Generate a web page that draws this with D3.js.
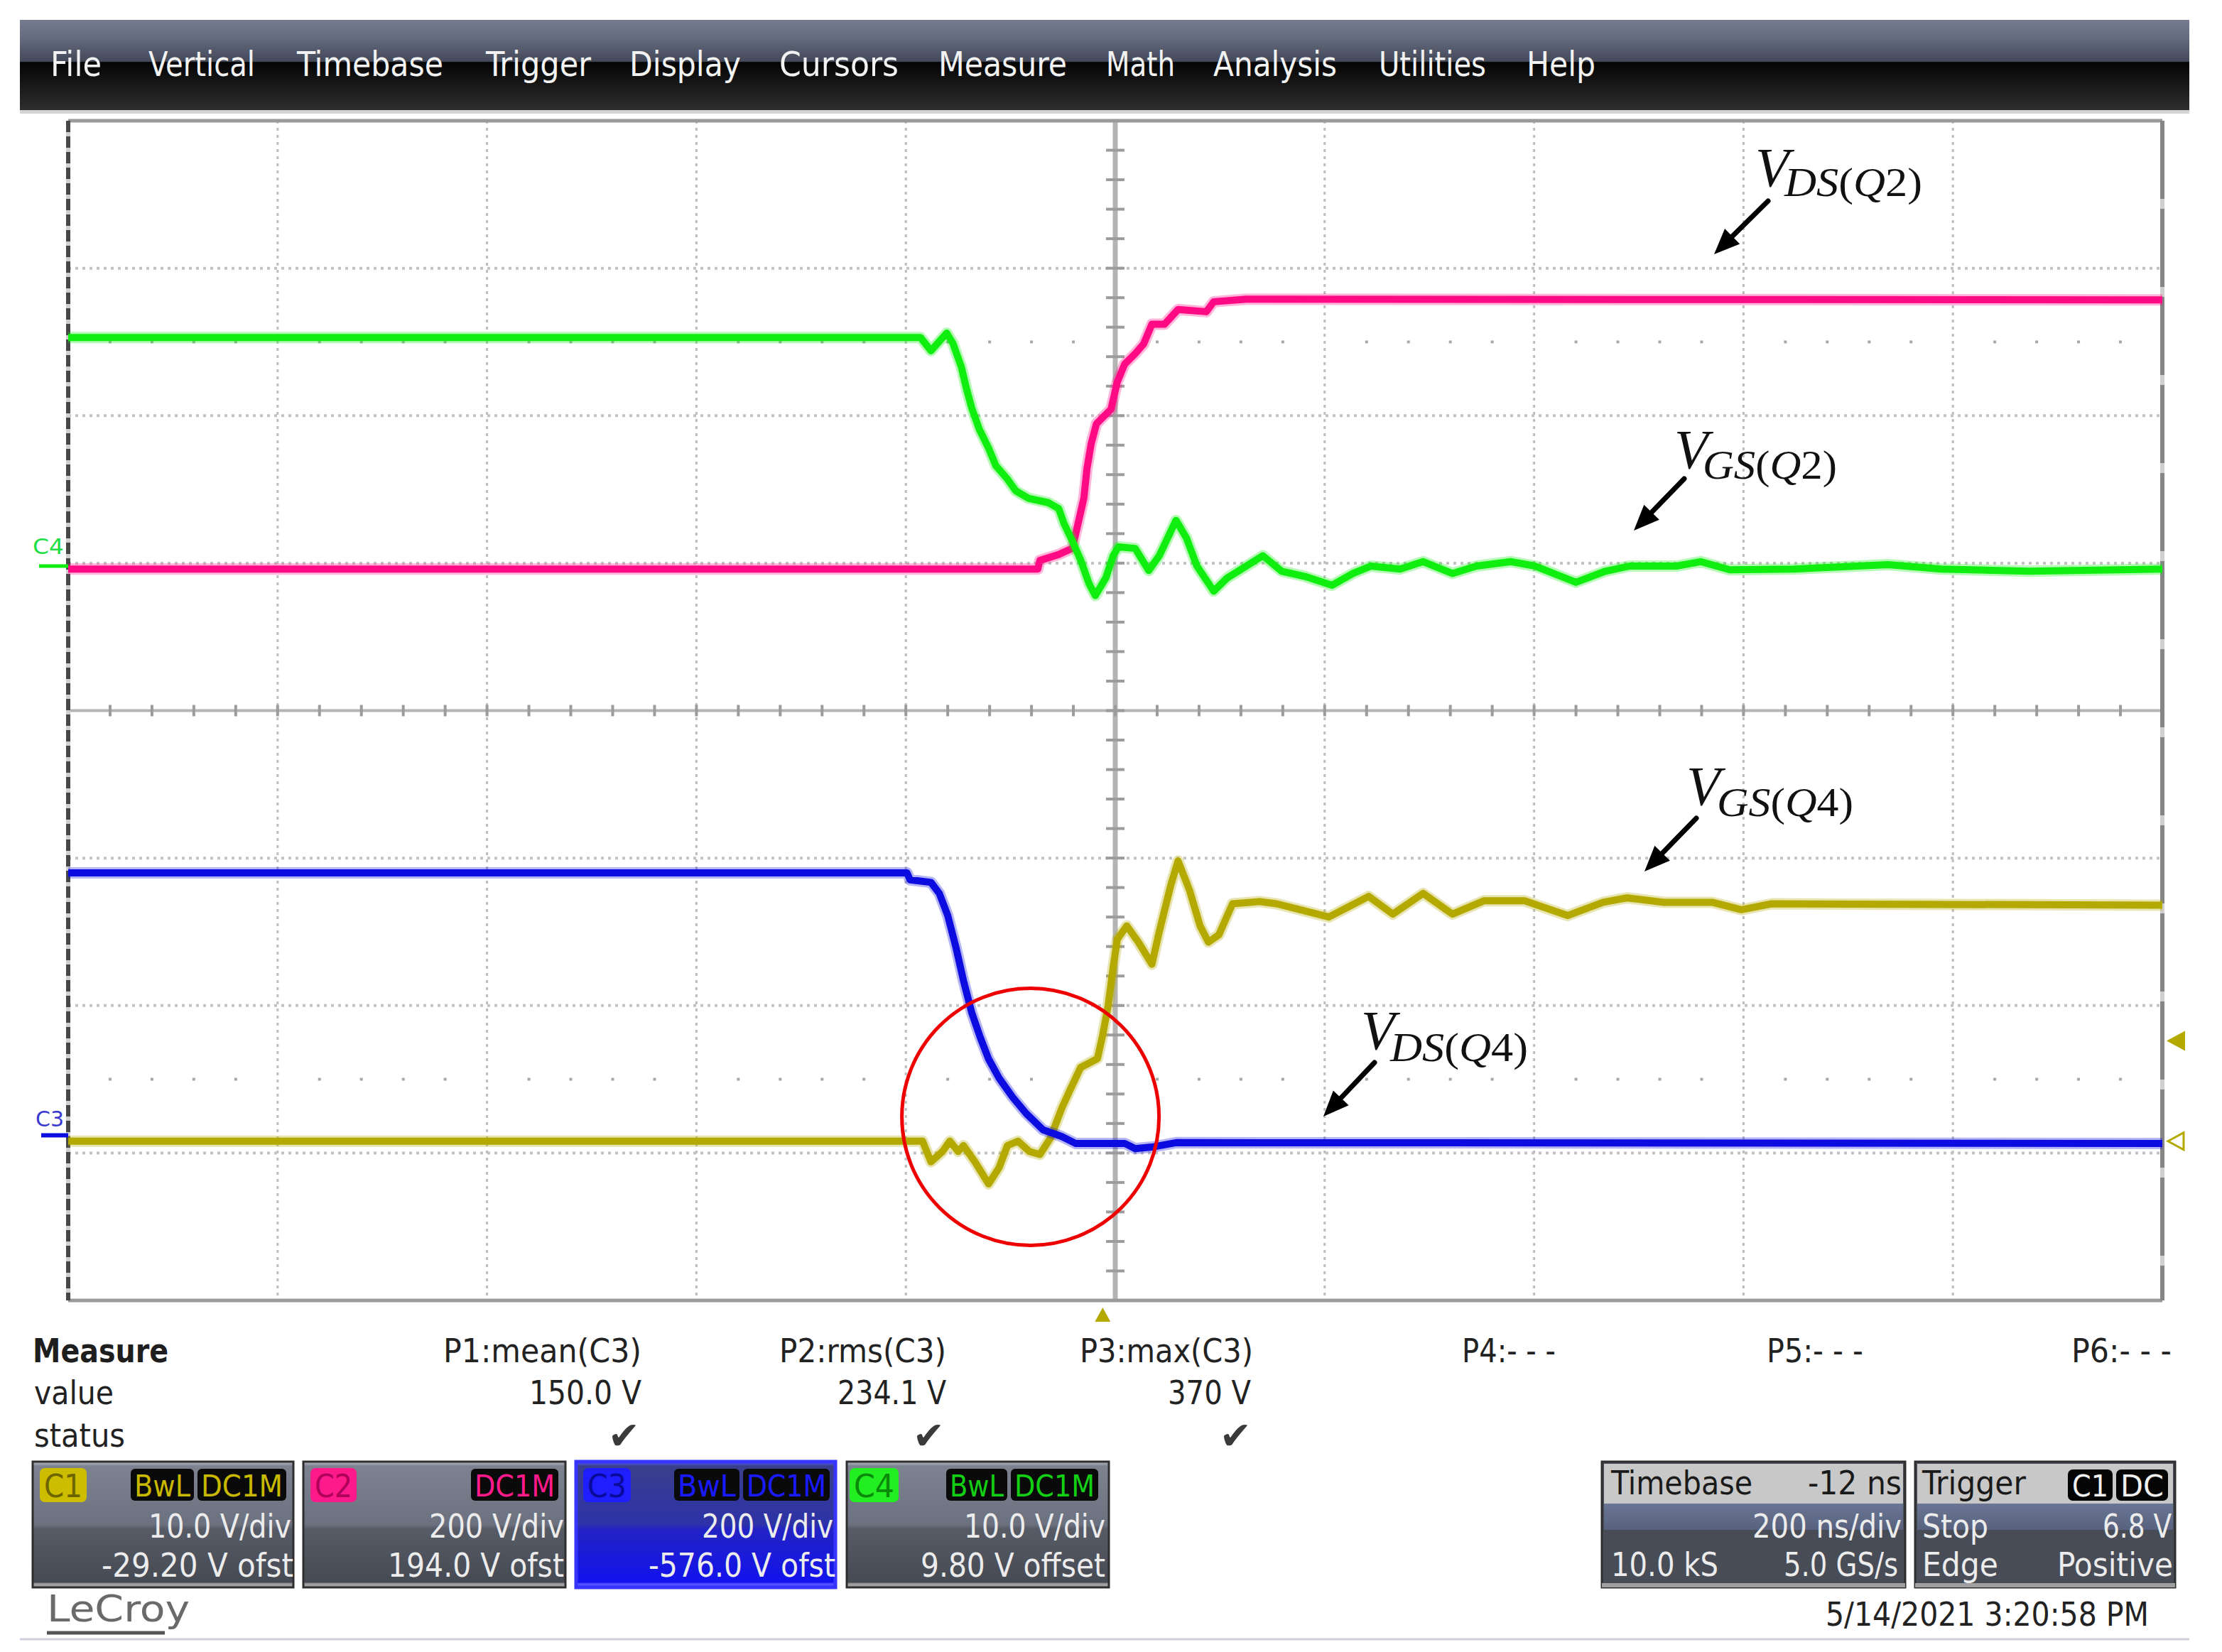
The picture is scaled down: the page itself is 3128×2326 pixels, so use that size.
<!DOCTYPE html>
<html><head><meta charset="utf-8">
<script src="https://cdn.jsdelivr.net/npm/d3@7"></script>
<style>html,body{margin:0;padding:0;background:#fff;} svg{display:block;}</style>
</head><body><svg id="c" width="3128" height="2326"></svg>
<script>
// ---------------- DATA ----------------
const menuItems = ["File","Vertical","Timebase","Trigger","Display","Cursors","Measure","Math","Analysis","Utilities","Help"];

// channel settings
const chNames   = ["C1","C2","C3","C4"];
const chVdiv    = [10, 200, 200, 10];          // V/div
const chOffset  = [-29.2, 194.0, -576.0, 9.80]; // V offset
const chColors  = ["#b3a900","#ff0a84","#0c0ce0","#10ee10"];

// time in ns (200 ns/div, screen centre = 0)
// C1 : VGS(Q4)
const c1Time = [-1000,-184,-176,-165,-158,-150,-145,-134,-121,-111,-103,-93,-82,-72,-62,-51,-43,-33,-17,-12,-7,-2,2,11,22,35,42,53,60,71,81,89,99,112,138,154,204,242,265,294,322,352,391,432,466,489,524,570,598,627,1000];
const c1Volts = [0,0,-1.4,-0.7,0,-0.7,-0.3,-1.4,-2.9,-1.8,-0.3,0,-0.7,-0.9,0.2,2.25,3.5,5.0,5.6,7.2,9.1,11.8,13.7,14.6,13.5,12.0,14.2,17.35,19.0,17.0,14.6,13.5,14.0,16.1,16.25,16.1,15.2,16.6,15.4,16.8,15.4,16.3,16.3,15.3,16.2,16.5,16.2,16.2,15.7,16.1,16.0];
// C2 : VDS(Q2)
const c2Time = [-1000,-74,-72,-54,-41,-36,-30,-27,-23,-18,-4,2,9,19,27,35,47,60,87,94,125,1000];
const c2Volts = [-2,-2,9.6,17.7,26.1,56.7,94.1,134.5,168,195,215,252,276,290,303,330,330,350,347,360.5,364,363];
// C3 : VDS(Q4)
const c3Time = [-1000,-199,-196,-176,-168,-160,-152,-145,-137,-129,-121,-111,-98,-85,-69,-51,-38,9,19,35,58,1000];
const c3Volts = [356,356,346.5,343,328,298,254,210,166,133,103.5,77.6,51.6,29.5,7.4,-1.8,-11,-11,-18,-16,-10,-11];
// C4 : VGS(Q2)
const c4Time = [-1000,-186,-176,-161,-155,-147,-142,-137,-130,-121,-114,-103,-95,-83,-64,-54,-49,-41,-33,-25,-19,-9,-2,3,19,32,42,58,68,78,94,107,123,141,159,181,207,227,244,272,294,322,345,378,401,440,468,491,536,559,587,648,738,789,873,1000];
const c4Volts = [15.5,15.5,14.6,15.8,15.1,13.5,12.0,10.7,9.3,8.0,6.8,5.9,5.1,4.6,4.3,3.9,2.9,1.7,0.4,-1.2,-2.0,-0.8,0.7,1.3,1.2,-0.3,0.7,3.1,1.9,0.0,-1.7,-0.8,-0.1,0.7,-0.35,-0.7,-1.3,-0.5,0.0,-0.2,0.3,-0.5,0.0,0.3,0.0,-1.1,-0.35,0.0,0.0,0.3,-0.25,-0.2,0.1,-0.2,-0.35,-0.2];

const triggerDelayNs = -12;
const triggerLevelV = 6.8;

const measLabels = ["P1:mean(C3)","P2:rms(C3)","P3:max(C3)","P4:- - -","P5:- - -","P6:- - -"];
const measValues = ["150.0 V","234.1 V","370 V","","",""];
const measStatus = [true,true,true,false,false,false];

const chVdivText = ["10.0 V/div","200 V/div","200 V/div","10.0 V/div"];
const chOfstText = ["-29.20 V ofst","194.0 V ofst","-576.0 V ofst","9.80 V offset"];
const chTags = [["BwL","DC1M"],["DC1M"],["BwL","DC1M"],["BwL","DC1M"]];

const timebaseText = ["Timebase","-12 ns","200 ns/div","10.0 kS","5.0 GS/s"];
const triggerText = ["Trigger","C1","DC","Stop","6.8 V","Edge","Positive"];
const dateText = "5/14/2021 3:20:58 PM";

const annotations = [
  {sub:["DS","(","Q","2)"], ch:1},
  {sub:["GS","(","Q","2)"], ch:3},
  {sub:["GS","(","Q","4)"], ch:0},
  {sub:["DS","(","Q","4)"], ch:2}
];

// ---------------- LAYOUT ----------------
const svg = d3.select("#c");
const P = {l:96, r:3044, t:170, b:1831};
const divX = (P.r-P.l)/10, divY = (P.b-P.t)/8;
const cx = (P.l+P.r)/2, cy = (P.t+P.b)/2;
const x = d3.scaleLinear().domain([-1000,1000]).range([P.l,P.r]);
const yS = chVdiv.map((vd,i)=>d3.scaleLinear().domain([-4*vd-chOffset[i], 4*vd-chOffset[i]]).range([P.b,P.t]));

const UI = "'Liberation Sans Narrow','DejaVu Sans Condensed','Liberation Sans',sans-serif";
function T(g, s, x0, x1, base, size, color, extra){
  const t = g.append("text").attr("x",x0).attr("y",base).text(s)
    .attr("font-family",UI).attr("font-size",size).attr("fill",color);
  if (x1!=null) t.attr("textLength",x1-x0).attr("lengthAdjust","spacingAndGlyphs");
  if (extra) extra(t);
  return t;
}

const defs = svg.append("defs");
function grad(id, stops){
  const g = defs.append("linearGradient").attr("id",id).attr("x1",0).attr("y1",0).attr("x2",0).attr("y2",1);
  stops.forEach(s=>g.append("stop").attr("offset",s[0]).attr("stop-color",s[1]));
}
grad("menuG",[[0,"#757c8f"],[0.2,"#646b7e"],[0.46,"#434959"],[0.47,"#050505"],[0.75,"#1a1a1a"],[1,"#2e2e2e"]]);
grad("boxG",[[0,"#b9bcc2"],[0.035,"#7d8290"],[0.5,"#6c717f"],[0.535,"#575b66"],[0.96,"#464a53"],[0.97,"#9a9a9a"],[1,"#a8a8a8"]]);
grad("boxSel",[[0,"#5a5aff"],[0.035,"#3a3f8c"],[0.5,"#2d32a8"],[0.535,"#2323c4"],[0.96,"#1212ee"],[0.97,"#4c4cff"],[1,"#5a5aff"]]);
grad("tbMid",[[0,"#6b7694"],[1,"#58627e"]]);

// ---------------- MENU BAR ----------------
svg.append("rect").attr("x",28).attr("y",28).attr("width",3054).attr("height",127).attr("fill","url(#menuG)");
svg.append("rect").attr("x",28).attr("y",155).attr("width",3054).attr("height",5).attr("fill","#d4d4d4");
const menuX = [[71,143],[209,359],[418,624],[684,832],[886,1043],[1097,1265],[1321,1502],[1557,1654],[1708,1882],[1941,2092],[2149,2246]];
const gm = svg.append("g");
menuItems.forEach((m,i)=>T(gm,m,menuX[i][0],menuX[i][1],107,48,"#f2f2f2"));

// ---------------- GRID ----------------
const gg = svg.append("g");
for (let i=1;i<10;i++){ if(i===5) continue;
  gg.append("line").attr("x1",P.l+i*divX).attr("x2",P.l+i*divX).attr("y1",P.t).attr("y2",P.b)
    .attr("stroke","#bdbdbd").attr("stroke-width",3).attr("stroke-dasharray","4 6");
}
for (let j=1;j<8;j++){ if(j===4) continue;
  gg.append("line").attr("x1",P.l).attr("x2",P.r).attr("y1",P.t+j*divY).attr("y2",P.t+j*divY)
    .attr("stroke","#c2c2c2").attr("stroke-width",4).attr("stroke-dasharray","4 6");
}
// sub-division dot rows
[1.5,6.5].forEach(j=>{
  for (let k=1;k<50;k++){ if(k%5===0) continue;
    gg.append("rect").attr("x",P.l+k*divX/5-2).attr("y",P.t+j*divY-2).attr("width",4).attr("height",4).attr("fill","#a8a8a8");
  }
});
// centre cross
gg.append("line").attr("x1",P.l).attr("x2",P.r).attr("y1",cy).attr("y2",cy).attr("stroke","#b4b4b4").attr("stroke-width",4);
gg.append("line").attr("x1",cx).attr("x2",cx).attr("y1",P.t).attr("y2",P.b).attr("stroke","#b4b4b4").attr("stroke-width",7);
for (let k=1;k<50;k++){
  gg.append("line").attr("x1",P.l+k*divX/5).attr("x2",P.l+k*divX/5).attr("y1",cy-8).attr("y2",cy+8).attr("stroke","#9c9c9c").attr("stroke-width",4);
}
for (let k=1;k<40;k++){
  gg.append("line").attr("x1",cx-13).attr("x2",cx+13).attr("y1",P.t+k*divY/5).attr("y2",P.t+k*divY/5).attr("stroke","#9c9c9c").attr("stroke-width",4);
}
// borders
gg.append("line").attr("x1",P.l).attr("x2",P.r).attr("y1",P.t).attr("y2",P.t).attr("stroke","#9a9a9a").attr("stroke-width",5);
gg.append("line").attr("x1",P.l).attr("x2",P.r).attr("y1",P.b).attr("y2",P.b).attr("stroke","#9a9a9a").attr("stroke-width",5);
gg.append("line").attr("x1",P.l).attr("x2",P.l).attr("y1",P.t).attr("y2",P.b).attr("stroke","#cfcfcf").attr("stroke-width",6);
gg.append("line").attr("x1",P.l).attr("x2",P.l).attr("y1",P.t).attr("y2",P.b).attr("stroke","#474747").attr("stroke-width",6).attr("stroke-dasharray","16 6");
gg.append("line").attr("x1",P.r).attr("x2",P.r).attr("y1",P.t).attr("y2",P.b).attr("stroke","#d0d0d0").attr("stroke-width",6);
gg.append("line").attr("x1",P.r).attr("x2",P.r).attr("y1",P.t).attr("y2",P.b).attr("stroke","#858585").attr("stroke-width",6).attr("stroke-dasharray","110 14");

// ---------------- TRACES ----------------
const series = [[c1Time,c1Volts],[c2Time,c2Volts],[c3Time,c3Volts],[c4Time,c4Volts]];
const gt = svg.append("g");
series.forEach((s,i)=>{
  const pts = s[0].map((t,k)=>[t,s[1][k]]);
  const line = d3.line().x(d=>x(d[0])).y(d=>yS[i](d[1]));
  gt.append("path").attr("d",line(pts)).attr("fill","none").attr("stroke",chColors[i])
    .attr("stroke-width",16).attr("stroke-opacity",0.3).attr("stroke-linejoin","round");
  gt.append("path").attr("d",line(pts)).attr("fill","none").attr("stroke",chColors[i])
    .attr("stroke-width",10).attr("stroke-linejoin","round");
});

// ground markers on the left
const gmk = svg.append("g");
gmk.append("line").attr("x1",55).attr("x2",P.l).attr("y1",yS[3](0)).attr("y2",yS[3](0)).attr("stroke",chColors[3]).attr("stroke-width",5);
T(gmk,"C4",46,90,yS[3](0)-17,30,"#22dd44");
gmk.append("line").attr("x1",58).attr("x2",P.l).attr("y1",yS[2](0)).attr("y2",yS[2](0)).attr("stroke",chColors[2]).attr("stroke-width",6);
T(gmk,"C3",50,90,yS[2](0)-12,30,"#3a3ad0");
// trigger level marker (right) and C1 ground marker
const ty = yS[0](triggerLevelV), gy = yS[0](0);
gmk.append("path").attr("d",`M${P.r+6},${ty} L${P.r+32},${ty-14} L${P.r+32},${ty+14} Z`).attr("fill",chColors[0]);
gmk.append("path").attr("d",`M${P.r+8},${gy} L${P.r+30},${gy-12} L${P.r+30},${gy+12} Z`).attr("fill","none").attr("stroke",chColors[0]).attr("stroke-width",3);
// trigger time marker (bottom)
const tx = x(triggerDelayNs);
gmk.append("path").attr("d",`M${tx},${P.b+10} L${tx-11},${P.b+30} L${tx+11},${P.b+30} Z`).attr("fill",chColors[0]);

// red highlight circle around the commutation
svg.append("circle").attr("cx",x(-81)).attr("cy",yS[2](-1)-27).attr("r",181)
  .attr("fill","none").attr("stroke","#ee0000").attr("stroke-width",5);

// ---------------- ANNOTATIONS ----------------
const annLayout = [
  {vx:2471,vb:262,sx:2512,sw:194,sb:276,a:[2489,283,2413,358]},
  {vx:2357,vb:659,sx:2397,sw:189,sb:674,a:[2371,674,2300,747]},
  {vx:2374,vb:1133,sx:2417,sw:192,sb:1149,a:[2388,1152,2315,1227]},
  {vx:1916,vb:1477,sx:1957,sw:194,sb:1494,a:[1935,1496,1863,1572]}
];
const ga = svg.append("g");
const SER = "'Liberation Serif','DejaVu Serif',serif";
annotations.forEach((an,i)=>{
  const L = annLayout[i];
  const t = ga.append("text").attr("font-family",SER).attr("fill","#111");
  t.append("tspan").attr("x",L.vx).attr("y",L.vb).attr("font-style","italic").attr("font-size",78).text("V");
  const sub = t.append("tspan").attr("x",L.sx).attr("y",L.sb).attr("font-size",56)
    .attr("textLength",L.sw).attr("lengthAdjust","spacingAndGlyphs");
  an.sub.forEach((s,k)=>sub.append("tspan").text(s).attr("font-style",(k===0||k===2)?"italic":"normal"));
  const [x1,y1,x2,y2] = L.a;
  const ang = Math.atan2(y2-y1,x2-x1), hl=36, hw=15;
  const bx = x2-hl*Math.cos(ang), by = y2-hl*Math.sin(ang);
  ga.append("line").attr("x1",x1).attr("y1",y1).attr("x2",bx).attr("y2",by).attr("stroke","#000").attr("stroke-width",7).attr("stroke-linecap","round");
  ga.append("path").attr("d",`M${x2},${y2} L${bx+hw*Math.sin(ang)},${by-hw*Math.cos(ang)} L${bx-hw*Math.sin(ang)},${by+hw*Math.cos(ang)} Z`).attr("fill","#000");
});

// ---------------- MEASURE TABLE ----------------
const gb = svg.append("g");
T(gb,"Measure",46,237,1918,46,"#1e1e1e",t=>t.attr("font-weight","bold"));
T(gb,"value",48,160,1977,46,"#222");
T(gb,"status",48,176,2037,46,"#222");
const measLX = [[624,903],[1097,1332],[1520,1764],[2058,2190],[2487,2623],[2916,3057]];
const measVX = [[745,903],[1179,1332],[1644,1761]];
measLabels.forEach((m,i)=>{
  T(gb,m,measLX[i][0],measLX[i][1],1918,46,"#222");
  if (measValues[i]) T(gb,measValues[i],measVX[i][0],measVX[i][1],1977,46,"#222");
  if (measStatus[i]) gb.append("text").attr("x",measLX[i][1]-2).attr("y",2040).attr("text-anchor","end")
     .attr("font-family","'DejaVu Sans',sans-serif").attr("font-size",54).attr("fill","#3a3a3a").text("\u2714");
});

// ---------------- CHANNEL BOXES ----------------
const boxX = [[46,413],[427,796],[811,1176],[1192,1561]];
const badgeX = [[56,122],[437,502],[821,888],[1196,1265]];
const tagX = [[[184,273],[278,403]],[[663,786]],[[949,1041],[1046,1168]],[[1332,1418],[1423,1546]]];
const vdivX = [[209,410],[604,794],[988,1173],[1357,1556]];
const ofsX = [[143,413],[546,794],[913,1176],[1296,1556]];
const badgeFill = ["#cdbd00","#ff1a8c","#1e1eff","#22ee22"];
const badgeText = ["#6d6500","#b0005a","#0a0a9a","#0a8a0a"];
const tagText = ["#c8b800","#ff1a8c","#1a1aff","#14d014"];
chNames.forEach((n,i)=>{
  const [a,b] = boxX[i], sel = i===2;
  gb.append("rect").attr("x",a).attr("y",2058).attr("width",b-a).attr("height",177)
    .attr("fill",sel?"url(#boxSel)":"url(#boxG)").attr("stroke",sel?"#3535ff":"#2e2e2e").attr("stroke-width",sel?5:3);
  gb.append("rect").attr("x",badgeX[i][0]).attr("y",2067).attr("width",badgeX[i][1]-badgeX[i][0]).attr("height",48).attr("rx",7).attr("fill",badgeFill[i]);
  T(gb,n,badgeX[i][0]+6,badgeX[i][1]-6,2108,44,badgeText[i]);
  chTags[i].forEach((tg,k)=>{
    const [p,q] = tagX[i][k];
    gb.append("rect").attr("x",p).attr("y",2068).attr("width",q-p).attr("height",45).attr("rx",6).attr("fill","#0a0a0a");
    T(gb,tg,p+5,q-5,2107,42,tagText[i]);
  });
  T(gb,chVdivText[i],vdivX[i][0],vdivX[i][1],2165,46,"#ececec");
  T(gb,chOfstText[i],ofsX[i][0],ofsX[i][1],2220,46,"#ececec");
});

// ---------------- TIMEBASE / TRIGGER ----------------
function infoBox(a,b){
  gb.append("rect").attr("x",a).attr("y",2058).attr("width",b-a).attr("height",177).attr("fill","#484c56").attr("stroke","#2e2e2e").attr("stroke-width",3);
  gb.append("rect").attr("x",a+3).attr("y",2061).attr("width",b-a-6).attr("height",56).attr("fill","#c8c8c8");
  gb.append("rect").attr("x",a+3).attr("y",2117).attr("width",b-a-6).attr("height",37).attr("fill","url(#tbMid)");
  gb.append("rect").attr("x",a).attr("y",2229).attr("width",b-a).attr("height",6).attr("fill","#a0a0a0");
}
infoBox(2255,2682); infoBox(2696,3062);
T(gb,timebaseText[0],2268,2467,2104,46,"#1a1a1a");
T(gb,timebaseText[1],2545,2677,2104,46,"#1a1a1a");
T(gb,timebaseText[2],2467,2677,2165,46,"#ececec");
T(gb,timebaseText[3],2268,2419,2219,46,"#ececec");
T(gb,timebaseText[4],2511,2672,2219,46,"#ececec");
T(gb,triggerText[0],2706,2852,2104,46,"#1a1a1a");
[[2911,2974],[2979,3052]].forEach((r,k)=>{
  gb.append("rect").attr("x",r[0]).attr("y",2069).attr("width",r[1]-r[0]).attr("height",44).attr("rx",7).attr("fill","#050505");
  T(gb,triggerText[1+k],r[0]+6,r[1]-6,2107,42,"#f0f0f0");
});
T(gb,triggerText[3],2706,2799,2165,46,"#ececec");
T(gb,triggerText[4],2960,3057,2165,46,"#ececec");
T(gb,triggerText[5],2706,2813,2219,46,"#ececec");
T(gb,triggerText[6],2896,3059,2219,46,"#ececec");

// footer
T(gb,"LeCroy",66,267,2283,52,"#6a6a6a");
gb.append("line").attr("x1",66).attr("x2",232).attr("y1",2299).attr("y2",2299).attr("stroke","#555").attr("stroke-width",5);
gb.append("line").attr("x1",28).attr("x2",3082).attr("y1",2308).attr("y2",2308).attr("stroke","#cdd0dc").attr("stroke-width",3);
T(gb,dateText,2570,3025,2289,46,"#222");
</script>
</body></html>
